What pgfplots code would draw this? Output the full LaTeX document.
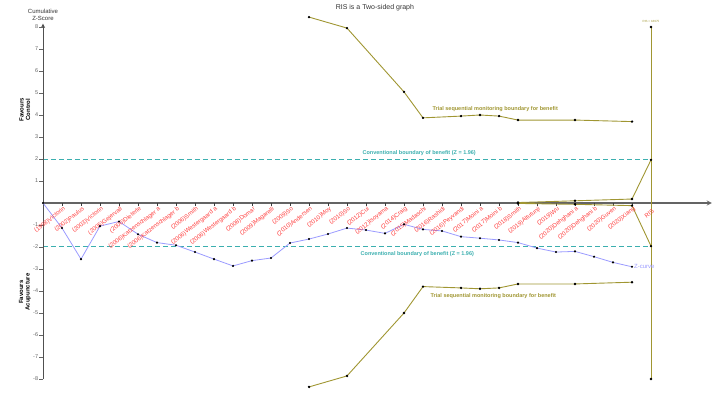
\documentclass[border=0pt]{standalone}
\usepackage{pgfplots}
\pgfplotsset{compat=1.18}
\usepackage{fontspec}
\setmainfont{Liberation Sans}
\definecolor{zblue}{RGB}{155,155,255}
\definecolor{olive2}{RGB}{160,150,50}
\definecolor{teal2}{RGB}{60,175,175}
\definecolor{lab}{RGB}{255,60,60}
\definecolor{axgray}{RGB}{100,100,100}
\begin{document}
\begin{tikzpicture}
\begin{axis}[width=726pt,height=398pt,scale only axis,
  xmin=-2.263,xmax=35.947,ymin=-8.864,ymax=9.227,
  hide axis, clip=false]
\path (rel axis cs:0,0) rectangle (rel axis cs:1,1);
% conventional boundaries
\addplot[teal2, line width=1pt, dash pattern=on 5pt off 3pt] coordinates {(0,1.96) (32,1.96)};
\addplot[teal2, line width=1pt, dash pattern=on 5pt off 3pt] coordinates {(0,-1.96) (32,-1.96)};
% axes
\draw[axgray, line width=1.2pt, -stealth] (axis cs:0,0) -- (axis cs:35.2,0);
\draw[axgray!80!black, line width=0.9pt, -stealth] (axis cs:0,-8) -- (axis cs:0,8.15);
\pgfplotsinvokeforeach{-8,-7,-6,-5,-4,-3,-2,-1,1,2,3,4,5,6,7,8}{
  \draw[axgray, line width=0.6pt] (axis cs:-0.2,#1) -- (axis cs:0,#1);
  \node[anchor=east, inner sep=0.5pt, text=axgray, font=\fontsize{5.5}{6}\selectfont] at (axis cs:-0.22,#1) {#1};
}
\pgfplotsinvokeforeach{1,2,3,4,5,6,7,8,9,10,11,12,13,14,15,16,17,18,19,20,21,22,23,24,25,26,27,28,29,30,31,32}{
  \draw[axgray!60!black, line width=0.5pt] (axis cs:#1,0) -- (axis cs:#1,-0.12);
}
% TSM boundaries
\addplot[olive2, line width=0.9pt, mark=*, mark size=0.7pt, mark options={black}] coordinates {
(14,8.45) (16,7.95) (19,5.05) (20,3.87) (22,3.95) (23,4.0) (24,3.95) (25,3.77) (28,3.77) (31,3.7)};
\addplot[olive2, line width=0.9pt, mark=*, mark size=0.7pt, mark options={black}] coordinates {
(14,-8.36) (16,-7.86) (19,-5.0) (20,-3.8) (22,-3.86) (23,-3.9) (24,-3.86) (25,-3.68) (28,-3.68) (31,-3.6)};
% futility wedge
\addplot[olive2, line width=0.9pt, mark=*, mark size=0.7pt, mark options={black}] coordinates {
(25,0.02) (28,0.1) (31,0.18) (32,1.96)};
\addplot[olive2, line width=0.9pt, mark=*, mark size=0.7pt, mark options={black}] coordinates {
(25,-0.02) (28,-0.06) (31,-0.12) (32,-1.96)};
% RIS line
\addplot[olive2, line width=0.9pt, mark=*, mark size=0.7pt, mark options={black}] coordinates {(32,8) (32,-8)};
% Z-curve
\addplot[zblue, line width=0.8pt, mark=*, mark size=0.6pt, mark options={black}] coordinates {
(0,0) (1,-1.14) (2,-2.55) (3,-1.05) (4,-0.84) (5,-1.42) (6,-1.8) (7,-1.92) (8,-2.23) (9,-2.55)
(10,-2.86) (11,-2.62) (12,-2.5) (13,-1.82) (14,-1.64) (15,-1.41) (16,-1.14) (17,-1.23) (18,-1.38) (19,-0.97)
(20,-1.2) (21,-1.27) (22,-1.53) (23,-1.6) (24,-1.68) (25,-1.8) (26,-2.05) (27,-2.23) (28,-2.2) (29,-2.44)
(30,-2.7) (31,-2.9)};
% text
\node[font=\fontsize{7}{8}\selectfont, text=black!80] at (axis cs:17.47,8.86) {RIS is a Two-sided graph};
\node[font=\fontsize{6}{6.5}\selectfont, align=center, text=black!80] at (axis cs:0,8.55) {Cumulative\\Z-Score};
\node[font=\bfseries\fontsize{6}{6.5}\selectfont, align=center, rotate=90] at (axis cs:-0.95,4.23) {Favours\\Control};
\node[font=\bfseries\fontsize{6}{6.5}\selectfont, align=center, rotate=90] at (axis cs:-0.95,-4.05) {Favours\\Acupuncture};
\node[font=\bfseries\fontsize{5.5}{6}\selectfont, text=teal2] at (axis cs:19.8,2.27) {Conventional boundary of benefit (Z = 1.96)};
\node[font=\bfseries\fontsize{5.5}{6}\selectfont, text=teal2] at (axis cs:19.7,-2.32) {Conventional boundary of benefit (Z = 1.96)};
\node[font=\bfseries\fontsize{5.5}{6}\selectfont, text=olive2] at (axis cs:23.8,4.27) {Trial sequential monitoring boundary for benefit};
\node[font=\bfseries\fontsize{5.5}{6}\selectfont, text=olive2] at (axis cs:23.7,-4.23) {Trial sequential monitoring boundary for benefit};
\node[font=\fontsize{6}{6}\selectfont, text=zblue, anchor=west, inner sep=1pt] at (axis cs:31.05,-2.9) {Z-curve};
\node[font=\fontsize{3}{3}\selectfont, text=olive2, anchor=south] at (axis cs:32,8.05) {RIS = 18975};
% study labels
\tikzset{slab/.style={rotate=38, anchor=north east, inner sep=0.3pt, text=lab, font=\fontsize{6}{6}\selectfont}}
\node[slab] at (axis cs:1.05,-0.12) {(1998)Victorin};
\node[slab] at (axis cs:2.05,-0.12) {(2002)Paulus};
\node[slab] at (axis cs:3.05,-0.12) {(2003)Victorin};
\node[slab] at (axis cs:4.05,-0.12) {(2005)Gejervall};
\node[slab] at (axis cs:5.05,-0.12) {(2006)Dieterle};
\node[slab] at (axis cs:6.05,-0.12) {(2006)Katzenschlager a};
\node[slab] at (axis cs:7.05,-0.12) {(2006)Katzenschlager b};
\node[slab] at (axis cs:8.05,-0.12) {(2006)Smith};
\node[slab] at (axis cs:9.05,-0.12) {(2006)Westergaard a};
\node[slab] at (axis cs:10.05,-0.12) {(2006)Westergaard b};
\node[slab] at (axis cs:11.05,-0.12) {(2008)Domar};
\node[slab] at (axis cs:12.05,-0.12) {(2009)Magarelli};
\node[slab] at (axis cs:13.05,-0.12) {(2009)So};
\node[slab] at (axis cs:14.05,-0.12) {(2010)Andersen};
\node[slab] at (axis cs:15.05,-0.12) {(2010)Moy};
\node[slab] at (axis cs:16.05,-0.12) {(2010)So};
\node[slab] at (axis cs:17.05,-0.12) {(2012)Cui};
\node[slab] at (axis cs:18.05,-0.12) {(2012)Isoyama};
\node[slab] at (axis cs:19.05,-0.12) {(2014)Craig};
\node[slab] at (axis cs:20.05,-0.12) {(2015)Madaschi};
\node[slab] at (axis cs:21.05,-0.12) {(2016)Rashidi};
\node[slab] at (axis cs:22.05,-0.12) {(2016)Peyvandi};
\node[slab] at (axis cs:23.05,-0.12) {(2017)Moini a};
\node[slab] at (axis cs:24.05,-0.12) {(2017)Moini b};
\node[slab] at (axis cs:25.05,-0.12) {(2018)Smith};
\node[slab] at (axis cs:26.05,-0.12) {(2019)Altutunji};
\node[slab] at (axis cs:27.05,-0.12) {(2019)Wu};
\node[slab] at (axis cs:28.05,-0.12) {(2020)Dehghani a};
\node[slab] at (axis cs:29.05,-0.12) {(2020)Dehghani b};
\node[slab] at (axis cs:30.05,-0.12) {(2020)Guven};
\node[slab] at (axis cs:31.05,-0.12) {(2020)Xiang};
\node[slab] at (axis cs:32.05,-0.25) {RIS};
\end{axis}
\end{tikzpicture}
\end{document}
